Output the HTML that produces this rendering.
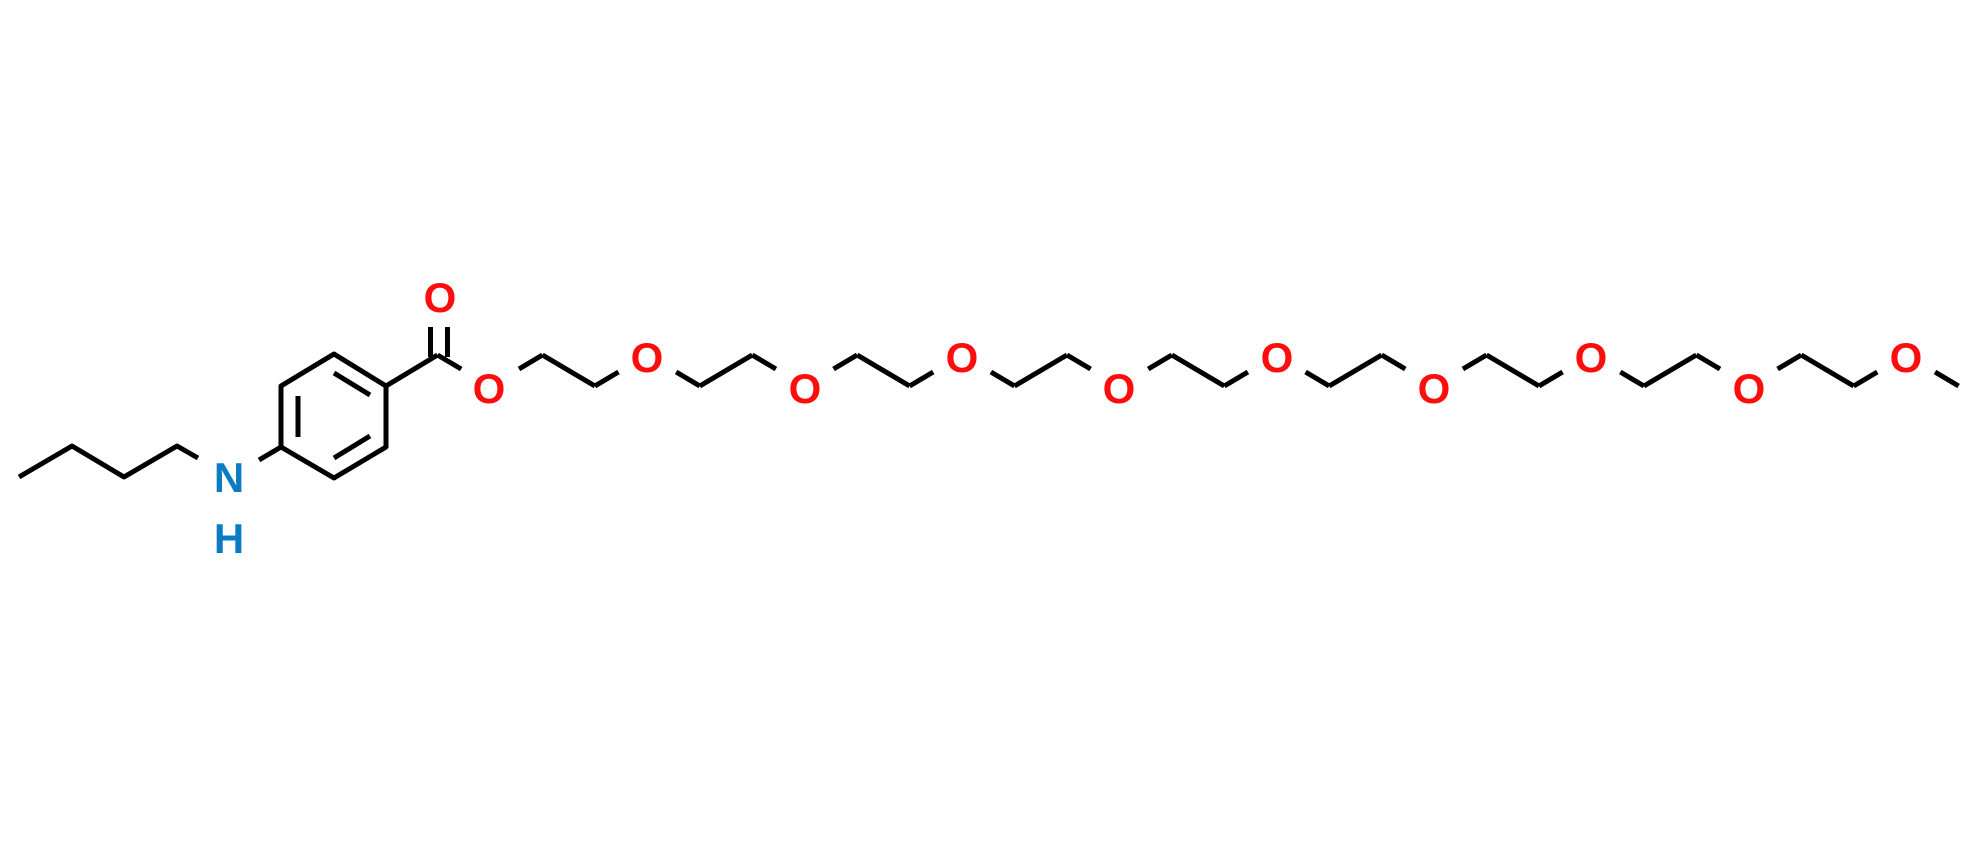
<!DOCTYPE html>
<html><head><meta charset="utf-8"><style>
html,body{margin:0;padding:0;background:#fff;}
svg{display:block;}
text{font-family:"Liberation Sans",Arial,sans-serif;font-weight:bold;font-size:42px;text-anchor:middle;}
</style></head><body>
<svg width="1980" height="844" viewBox="0 0 1980 844" xmlns="http://www.w3.org/2000/svg">
<g stroke="#000" stroke-width="5" fill="none" stroke-linecap="butt" stroke-linejoin="round">
<polyline points="19,477 72,446 124,477 177,446 198,458"/>
<line x1="259" y1="460" x2="281" y2="447"/>
<polygon points="386,386 334,354 281,386 281,447 334,478 386,447"/>
<line x1="334" y1="373" x2="370" y2="395"/>
<line x1="298" y1="396" x2="298" y2="437"/>
<line x1="334" y1="458" x2="370" y2="436"/>
<line x1="386" y1="386" x2="437.5" y2="355"/>
<line x1="430.5" y1="327" x2="430.5" y2="357"/>
<line x1="447.5" y1="327" x2="447.5" y2="357"/>
<line x1="437.5" y1="355" x2="461.2" y2="369"/>
<line x1="519" y1="369" x2="542.45" y2="355"/>
<line x1="542.45" y1="355" x2="594.9" y2="386"/>
<line x1="594.9" y1="386" x2="618.5" y2="372"/>
<line x1="676.2" y1="372" x2="699.8" y2="386"/>
<line x1="699.8" y1="386" x2="752.25" y2="355"/>
<line x1="752.25" y1="355" x2="775.9" y2="369"/>
<line x1="833.5" y1="369" x2="857.15" y2="355"/>
<line x1="857.15" y1="355" x2="909.6" y2="386"/>
<line x1="909.6" y1="386" x2="933.2" y2="372"/>
<line x1="990.9" y1="372" x2="1014.5" y2="386"/>
<line x1="1014.5" y1="386" x2="1066.95" y2="355"/>
<line x1="1066.95" y1="355" x2="1090.6" y2="369"/>
<line x1="1148.2" y1="369" x2="1171.85" y2="355"/>
<line x1="1171.85" y1="355" x2="1224.3" y2="386"/>
<line x1="1224.3" y1="386" x2="1247.9" y2="372"/>
<line x1="1305.6" y1="372" x2="1329.2" y2="386"/>
<line x1="1329.2" y1="386" x2="1381.65" y2="355"/>
<line x1="1381.65" y1="355" x2="1405.3" y2="369"/>
<line x1="1462.9" y1="369" x2="1486.55" y2="355"/>
<line x1="1486.55" y1="355" x2="1539" y2="386"/>
<line x1="1539" y1="386" x2="1562.6" y2="372"/>
<line x1="1620.3" y1="372" x2="1643.9" y2="386"/>
<line x1="1643.9" y1="386" x2="1696.35" y2="355"/>
<line x1="1696.35" y1="355" x2="1720" y2="369"/>
<line x1="1777.6" y1="369" x2="1801.25" y2="355"/>
<line x1="1801.25" y1="355" x2="1853.7" y2="386"/>
<line x1="1853.7" y1="386" x2="1877.3" y2="372"/>
<line x1="1935" y1="372" x2="1958.6" y2="386"/>
</g>
<g fill="#ff0d0d">
<text x="440" y="312">O</text>
<text x="489" y="403">O</text>
<text x="647" y="372">O</text>
<text x="805" y="403">O</text>
<text x="962" y="372">O</text>
<text x="1119" y="403">O</text>
<text x="1277" y="372">O</text>
<text x="1434" y="403">O</text>
<text x="1591" y="372">O</text>
<text x="1749" y="403">O</text>
<text x="1906" y="372">O</text>
</g>
<g fill="#0b7cc1">
<text x="229" y="492">N</text>
<text x="229" y="553">H</text>
</g>
</svg>
</body></html>
